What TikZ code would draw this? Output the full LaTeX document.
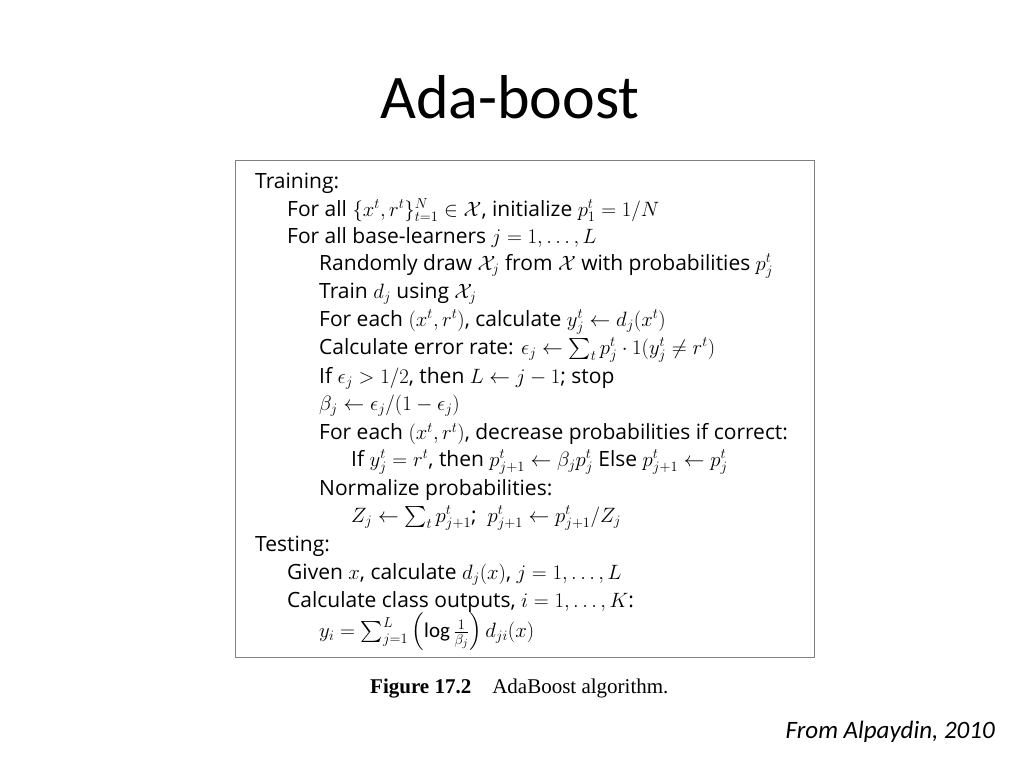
\documentclass[tikz,border=0pt]{standalone}
\usepackage{amsmath,amssymb}
\usepackage{fontspec}
\setmainfont{Carlito}
\newfontfamily\boxfont{Open Sans}
\newfontfamily\capfont{Liberation Serif}
\begin{document}
\begin{tikzpicture}[x=1pt,y=-1pt,
  ln/.style={anchor=west,inner sep=0pt,font=\boxfont\fontsize{21}{23}\selectfont}]
\useasboundingbox (0,0) rectangle (1024,768);
\node[font=\fontsize{62}{68}\selectfont,inner sep=0] (title) at (510,97) {Ada-boost};
\draw[gray,line width=0.8pt] (235,160) rectangle (814,657);
\node[ln] (l1) at (255,183) {Training:};
\node[ln] (l2) at (287,210) {For all $\{x^t,r^t\}_{t=1}^N\in\mathcal{X}$, initialize $p_1^t=1/N$};
\node[ln] (l3) at (287,238) {For all base-learners $j=1,\ldots,L$};
\node[ln] (l4) at (319,266) {Randomly draw $\mathcal{X}_j$ from $\mathcal{X}$ with probabilities $p_j^t$};
\node[ln] (l5) at (319,294) {Train $d_j$ using $\mathcal{X}_j$};
\node[ln] (l6) at (319,322) {For each $(x^t,r^t)$, calculate $y_j^t\leftarrow d_j(x^t)$};
\node[ln] (l7) at (319,350) {Calculate error rate: $\epsilon_j\leftarrow\sum_t p_j^t\cdot 1(y_j^t\neq r^t)$};
\node[ln] (l8) at (319,378) {If $\epsilon_j>1/2$, then $L\leftarrow j-1$; stop};
\node[ln] (l9) at (319,406) {$\beta_j\leftarrow\epsilon_j/(1-\epsilon_j)$};
\node[ln] (l10) at (319,434) {For each $(x^t,r^t)$, decrease probabilities if correct:};
\node[ln] (l11) at (351,462) {If $y_j^t=r^t$, then $p_{j+1}^t\leftarrow\beta_jp_j^t$ Else $p_{j+1}^t\leftarrow p_j^t$};
\node[ln] (l12) at (319,490) {Normalize probabilities:};
\node[ln] (l13) at (351,518) {$Z_j\leftarrow\sum_t p_{j+1}^t$;\ \ $p_{j+1}^t\leftarrow p_{j+1}^t/Z_j$};
\node[ln] (l14) at (255,546) {Testing:};
\node[ln] (l15) at (287,574) {Given $x$, calculate $d_j(x)$, $j=1,\ldots,L$};
\node[ln] (l16) at (287,602) {Calculate class outputs, $i=1,\ldots,K$:};
\node[ln] (l17) at (319,632) {$y_i=\sum_{j=1}^L\left(\log\frac{1}{\beta_j}\right)d_{ji}(x)$};
\node[anchor=west,inner sep=0,font=\capfont\fontsize{21}{23}\selectfont] (cap) at (370,689) {\textbf{Figure 17.2}\quad AdaBoost algorithm.};
\node[anchor=east,inner sep=0,font=\itshape\fontsize{25}{28}\selectfont] (src) at (995,732) {From Alpaydin, 2010};
\end{tikzpicture}
\end{document}
